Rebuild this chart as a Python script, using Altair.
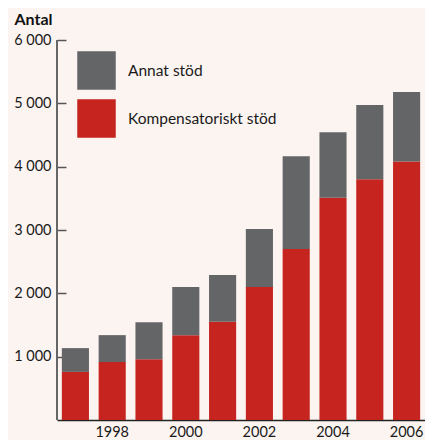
import altair as alt
import pandas as pd

years = [1997, 1998, 1999, 2000, 2001, 2002, 2003, 2004, 2005, 2006]
kompensatoriskt = [760, 915, 960, 1340, 1550, 2100, 2700, 3510, 3800, 4080]
totalt = [1135, 1340, 1545, 2100, 2290, 3015, 4165, 4545, 4975, 5180]
annat = [t - k for t, k in zip(totalt, kompensatoriskt)]
series = ["Annat stöd", "Kompensatoriskt stöd"]
colors = ["#646567", "#c5241f"]
y_ticks = [1000, 2000, 3000, 4000, 5000, 6000]
x_labels = [1998, 2000, 2002, 2004, 2006]

rows = []
for y, k, a in zip(years, kompensatoriskt, annat):
    rows.append({"year": y, "typ": series[1], "antal": k, "ord": 0})
    rows.append({"year": y, "typ": series[0], "antal": a, "ord": 1})
df = pd.DataFrame(rows)

FONT = "Lato"

bars = alt.Chart(df).mark_bar().encode(
    x=alt.X(
        "year:O",
        scale=alt.Scale(paddingInner=10 / 38, paddingOuter=5 / 38),
        axis=alt.Axis(
            values=x_labels, title=None, labelAngle=0, ticks=False,
            labelFont=FONT, labelFontSize=14.5, labelColor="#1a1a1a",
            labelPadding=5, domainColor="#222222", domainWidth=1.5,
        ),
    ),
    y=alt.Y(
        "antal:Q",
        stack="zero",
        scale=alt.Scale(domain=[0, 6000], nice=False),
        axis=alt.Axis(
            values=y_ticks, title="Antal", titleAngle=0, titleAlign="left",
            titleBaseline="alphabetic", titleX=-52, titleY=-16,
            titleFont=FONT, titleFontSize=16, titleFontWeight="bold", titleColor="#111111",
            labelFont=FONT, labelFontSize=14.5, labelColor="#1a1a1a",
            labelExpr="replace(format(datum.value, ','), ',', ' ')",
            labelPadding=6, tickSize=9, tickColor="#555555", tickWidth=1.5,
            domain=False, grid=False, offset=-9,
        ),
    ),
    color=alt.Color(
        "typ:N",
        scale=alt.Scale(domain=series, range=colors),
        legend=alt.Legend(
            title=None, orient="none", legendX=20, legendY=11,
            symbolType="square", symbolSize=1482, symbolStrokeWidth=0,
            symbolOpacity=1, labelFont=FONT, labelFontSize=15.5,
            labelColor="#1a1a1a", labelOffset=12, rowPadding=9, padding=0,
        ),
    ),
    order=alt.Order("ord:Q", sort="ascending"),
)

yline = alt.Chart(df).mark_rule(color="#666666", strokeWidth=2).encode(
    x=alt.value(0), y=alt.datum(0), y2=alt.datum(6000)
)

chart = alt.layer(bars, yline).properties(
    width=368, height=380,
    autosize=alt.AutoSizeParams(type="none"),
    padding={"left": 49, "top": 32, "right": 0, "bottom": 20},
    background="#fcf4f1",
).configure_view(stroke=None)

chart.save("out.html", embed_options={"renderer": "svg", "actions": False})
